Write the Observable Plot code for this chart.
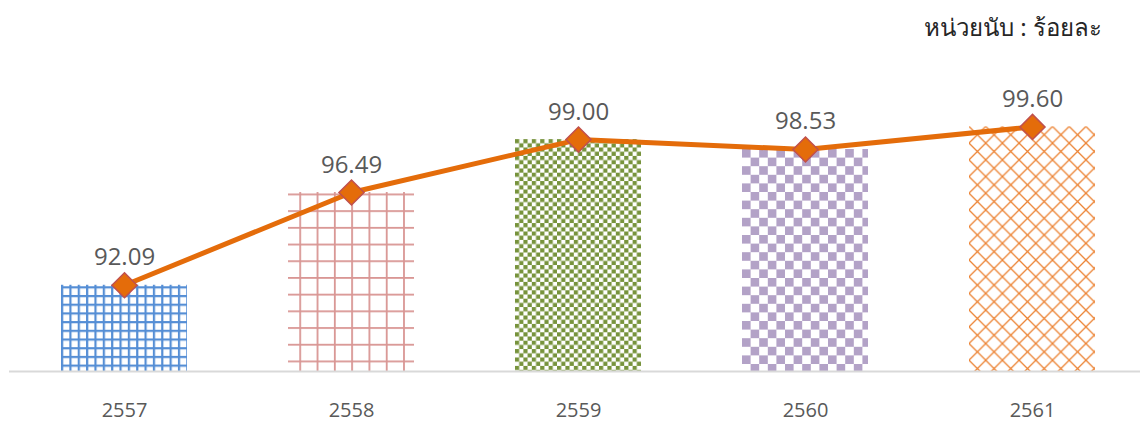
<!DOCTYPE html>
<html><head><meta charset="utf-8">
<script src="https://cdn.jsdelivr.net/npm/d3@7"></script>
<script src="https://cdn.jsdelivr.net/npm/@observablehq/plot@0.6"></script>
<style>
body{margin:0;background:#fff;}
#wrap{position:relative;width:1140px;height:423px;}
#unit{position:absolute;right:38px;top:8px;font-size:24px;font-weight:400;font-family:"Noto Sans","Open Sans",sans-serif;color:#262626;}
</style></head><body>
<div id="wrap"><div id="unit">หน่วยนับ : ร้อยละ</div><div id="chart"></div></div>
<script>
const years = ["2557", "2558", "2559", "2560", "2561"];
const values = [92.09, 96.49, 99.00, 98.53, 99.60];
const labels = ["92.09", "96.49", "99.00", "98.53", "99.60"];
const patternIds = ["pat-grid-small", "pat-grid-large", "pat-check-small", "pat-check-large", "pat-trellis"];
const data = years.map((y, i) => ({year: y, value: values[i], label: labels[i], fill: `url(#${patternIds[i]})`}));

const plot = Plot.plot({
  width: 1140, height: 423,
  marginTop: 118, marginBottom: 52, marginLeft: 9, marginRight: 0,
  style: {background: "transparent", fontFamily: "'Open Sans','Noto Sans',sans-serif"},
  x: {domain: years, range: [9, 1147], paddingInner: 0.446, paddingOuter: 0.223, align: 0.5, label: null},
  y: {domain: [88, 100], axis: null},
  color: {type: "identity"},
  marks: [
    Plot.barY(data, {x: "year", y1: 88, y2: "value", fill: "fill"}),
    Plot.ruleY([88], {stroke: "#d9d9d9", strokeWidth: 2}),
    Plot.line(data, {x: "year", y: "value", stroke: "#E46C0A", strokeWidth: 5}),
    Plot.dot(data, {x: "year", y: "value", symbol: "diamond2", r: 11.3, fill: "#E46C0A", stroke: "#C0504D", strokeWidth: 1.5}),
    Plot.text(data, {x: "year", y: "value", text: "label", dy: -20, lineAnchor: "bottom", fontSize: 24, fill: "#595959"}),
    Plot.axisX({tickSize: 0, tickPadding: 31, fontSize: 20, color: "#595959", label: null})
  ]
});
document.getElementById("chart").appendChild(plot);

const svg = d3.select(plot);
const defs = svg.insert("defs", ":first-child");

// small grid (blue)
let p = defs.append("pattern").attr("id", "pat-grid-small").attr("patternUnits", "userSpaceOnUse").attr("width", 8.35).attr("height", 8.7);
p.append("rect").attr("width", 8.35).attr("height", 8.7).attr("fill", "#fff");
p.append("rect").attr("x", 0).attr("y", 0).attr("width", 2.2).attr("height", 8.7).attr("fill", "#558ED5");
p.append("rect").attr("x", 0).attr("y", 0).attr("width", 8.35).attr("height", 2.2).attr("fill", "#558ED5");
// large grid (red)
p = defs.append("pattern").attr("id", "pat-grid-large").attr("patternUnits", "userSpaceOnUse").attr("width", 17.3).attr("height", 16.7);
p.append("rect").attr("width", 17.3).attr("height", 16.7).attr("fill", "#fff");
p.append("rect").attr("x", 0).attr("y", 0).attr("width", 1.8).attr("height", 16.7).attr("fill", "#D99694");
p.append("rect").attr("x", 0).attr("y", 0).attr("width", 17.3).attr("height", 1.8).attr("fill", "#D99694");
// small checker (green)
p = defs.append("pattern").attr("id", "pat-check-small").attr("patternUnits", "userSpaceOnUse").attr("width", 8.4).attr("height", 8.4);
p.append("rect").attr("width", 8.4).attr("height", 8.4).attr("fill", "#fff");
p.append("rect").attr("x", 0).attr("y", 0).attr("width", 4.2).attr("height", 4.2).attr("fill", "#77933C");
p.append("rect").attr("x", 4.2).attr("y", 4.2).attr("width", 4.2).attr("height", 4.2).attr("fill", "#77933C");
// large checker (purple)
p = defs.append("pattern").attr("id", "pat-check-large").attr("patternUnits", "userSpaceOnUse").attr("width", 17.2).attr("height", 17.2);
p.append("rect").attr("width", 17.2).attr("height", 17.2).attr("fill", "#fff");
p.append("rect").attr("x", 0).attr("y", 0).attr("width", 8.6).attr("height", 8.6).attr("fill", "#B3A2C7");
p.append("rect").attr("x", 8.6).attr("y", 8.6).attr("width", 8.6).attr("height", 8.6).attr("fill", "#B3A2C7");
// trellis (orange)
p = defs.append("pattern").attr("id", "pat-trellis").attr("patternUnits", "userSpaceOnUse").attr("width", 16.7).attr("height", 16.7);
p.append("rect").attr("width", 16.7).attr("height", 16.7).attr("fill", "#fff");
p.append("path").attr("d", "M-2,-2L18.7,18.7M18.7,-2L-2,18.7").attr("stroke", "#EC8232").attr("stroke-width", 1.3).attr("fill", "none");

const offsets = [[0, 1.5], [11.3, 1.5], [0, 0], [0, 0], [0, 0]];
svg.selectAll('g[aria-label="bar"] rect').each(function(d, i) {
  const x = +this.getAttribute("x"), y = +this.getAttribute("y");
  d3.select("#" + patternIds[i]).attr("x", x + offsets[i][0]).attr("y", y + offsets[i][1]);
});
</script>
</body></html>
